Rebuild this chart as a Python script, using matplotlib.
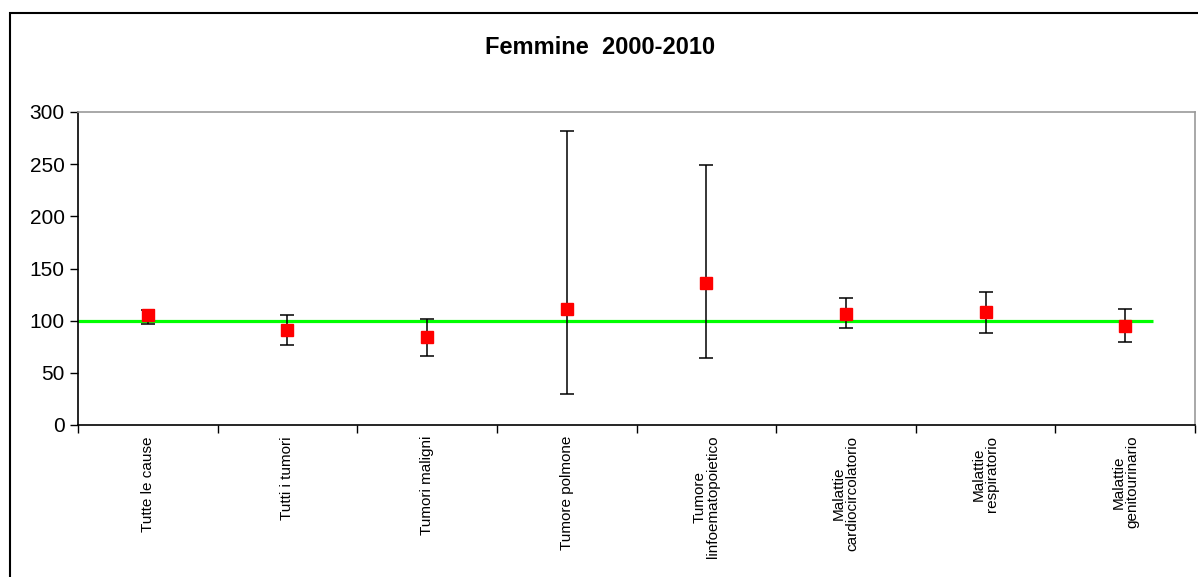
import matplotlib.pyplot as plt
from matplotlib.patches import Rectangle

plt.rcParams['font.family'] = ['Liberation Sans', 'DejaVu Sans']

# SMR with 95% confidence limits, women 2000-2010
cause = ["Tutte le cause", "Tutti i tumori", "Tumori maligni", "Tumore polmone",
         "Tumore\nlinfoematopoietico", "Malattie\ncardiocircolatorio",
         "Malattie\nrespiratorio", "Malattie\ngenitourinario"]
smr = [105.7, 90.7, 84, 110.8, 136.3, 106.7, 108, 94.6]
lower = [97.1, 77, 66, 29.6, 64.3, 93, 88.5, 80]
upper = [109.8, 105, 102, 281.8, 249, 121.6, 127.4, 111.5]
reference = 100

x = list(range(len(cause)))
err_lo = [s - l for s, l in zip(smr, lower)]
err_hi = [u - s for s, u in zip(smr, upper)]

fig = plt.figure(figsize=(11.98, 5.77), dpi=100)
ax = fig.add_axes([78 / 1198, 1 - 425 / 577, (1195 - 78) / 1198, (425 - 112) / 577])

# outer chart frame
fig.patches.append(Rectangle((9.5 / 1198, -0.1), 1.2, 1.1 - 13 / 577,
                             transform=fig.transFigure, fill=False,
                             edgecolor='black', linewidth=1.5))

ax.hlines(reference, -0.5, 7.2, colors='#00ff00', linewidth=2.3, zorder=2)
ax.errorbar(x, smr, yerr=[err_lo, err_hi], fmt='none', ecolor='black',
            elinewidth=1.1, capsize=4.7, capthick=1.1, zorder=3)
ax.plot(x, smr, linestyle='none', marker='s', markersize=8.6,
        color='#ff0000', zorder=4)

ax.set_xlim(-0.5, len(cause) - 0.5)
ax.set_ylim(0, 300)
ax.set_yticks(range(0, 301, 50))
ax.tick_params(axis='y', labelsize=15, length=6, width=1, direction='out')

ax.set_xticks([i - 0.5 for i in range(len(cause) + 1)])
ax.set_xticklabels([])
ax.tick_params(axis='x', length=6, width=1, direction='out')
for i, name in enumerate(cause):
    ax.annotate(name, xy=(i, 0), xycoords=('data', 'axes fraction'),
                xytext=(0, -11), textcoords='offset pixels',
                rotation=90, ha='center', va='top', fontsize=11,
                linespacing=0.95, multialignment='center')

for side in ['left', 'bottom']:
    ax.spines[side].set_color('black')
    ax.spines[side].set_linewidth(1.2)
for side in ['top', 'right']:
    ax.spines[side].set_color('#999999')
    ax.spines[side].set_linewidth(1.2)

fig.text(600 / 1198, 1 - 47 / 577, "Femmine  2000-2010", ha='center',
         va='center', fontsize=17, fontweight='bold')

fig.savefig('out.png', dpi=100)
